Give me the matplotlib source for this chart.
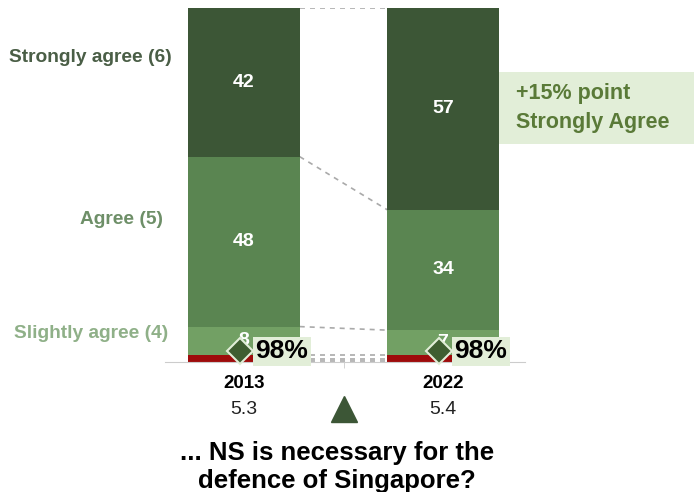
import numpy as np
import matplotlib.pyplot as plt
from matplotlib.transforms import blended_transform_factory

plt.rcParams['font.family'] = ['Liberation Sans', 'DejaVu Sans']

# data
years = ['2013', '2022']
strongly_disagree = [0.3, 0.3]   # red sliver at the bottom (three small groups)
disagree = [0.5, 0.5]
slightly_disagree = [1.2, 1.2]
slightly_agree = [8, 7]
agree = [48, 34]
strongly_agree = [42, 57]
mean_scores = ['5.3', '5.4']
total_agree = ['98%', '98%']
categories = ['Slightly agree (4)', 'Agree (5)', 'Strongly agree (6)']
callout = '+15% point\nStrongly Agree'
question = '... NS is necessary for the\ndefence of Singapore?'

c_red = '#9e0b0b'
c_slight = '#72a064'
c_agree = '#5a8551'
c_strong = '#3c5636'
c_light = '#e2eed8'

fig = plt.figure(figsize=(6.94, 4.92), dpi=100)
ax = fig.add_axes([165 / 694, 130 / 492, 360 / 694, 354 / 492])

x = np.arange(len(years))
w = 0.56
series = [strongly_disagree, disagree, slightly_disagree,
          slightly_agree, agree, strongly_agree]
colors = [c_red, c_red, c_red, c_slight, c_agree, c_strong]
bottoms = np.zeros(len(years))
edges = []
for vals, col in zip(series, colors):
    vals = np.array(vals, dtype=float)
    ax.bar(x, vals, w, bottom=bottoms, color=col, linewidth=0, zorder=2)
    # white value labels on the agree segments
    if col != c_red:
        for xi, b, v in zip(x, bottoms, vals):
            ax.text(xi, b + v / 2, '%d' % v, ha='center', va='center',
                    color='white', fontsize=14, fontweight='bold', zorder=3)
    bottoms = bottoms + vals
    edges.append(bottoms.copy())

# dashed connectors between the bars
for e in edges:
    ax.plot([x[0] + w / 2, x[1] - w / 2], [e[0], e[1]], ls=(0, (3, 3)),
            color='#aaaaaa', lw=1.2, zorder=1)

# diamonds with 98% labels
for xi, lab in zip(x, total_agree):
    ax.plot(xi - 0.02, 3, marker='D', ms=13, mfc='#3f5e31', mec=c_light,
            mew=1.5, zorder=5, clip_on=False)
    ax.annotate(lab, (xi - 0.02, 3), xytext=(11, 0), textcoords='offset points',
                ha='left', va='center', fontsize=19, fontweight='bold',
                color='black', zorder=6,
                bbox=dict(boxstyle='square,pad=0.1', fc=c_light, ec='none'))

ax.set_xlim(-0.397, -0.397 + 360 / 199)
ax.set_ylim(0, 100)
for s in ['top', 'right', 'left']:
    ax.spines[s].set_visible(False)
ax.spines['bottom'].set_color('#cccccc')
ax.set_yticks([])
ax.set_xticks(x)
ax.set_xticklabels(years, fontsize=13.5, fontweight='bold')
ax.tick_params(axis='x', length=0, pad=9)
ax.set_xticks([0.5], minor=True)
ax.tick_params(axis='x', which='minor', length=4, color='#cccccc')

trans = blended_transform_factory(ax.transData, ax.transAxes)
for xi, m in zip(x, mean_scores):
    ax.text(xi, -0.133, m, transform=trans, ha='center', va='center',
            fontsize=14, color='#222222')
ax.plot(0.5, -0.133, marker='^', ms=19, color='#3c5636', transform=trans,
        clip_on=False)

# category labels on the left
cat_y = [333, 220, 57]
cat_x = [168, 163, 172]
cat_c = ['#8fb088', '#6e8f68', '#4a5e46']
for lab, yy, xx, cc in zip(categories, cat_y, cat_x, cat_c):
    fig.text(xx / 694, 1 - yy / 492, lab, ha='right', va='center',
             fontsize=13.8, fontweight='bold', color=cc)

# callout box
fig.patches.append(plt.Rectangle((499 / 694, 1 - 144 / 492), 195 / 694, 72 / 492,
                                 transform=fig.transFigure, fc=c_light, ec='none'))
fig.text(516 / 694, 1 - 108 / 492, callout, ha='left', va='center',
         fontsize=15.5, fontweight='bold', color='#5a7a38', linespacing=1.55)

fig.text(337 / 694, 1 - 467 / 492, question, ha='center', va='center',
         fontsize=18.5, fontweight='bold', color='black', linespacing=1.2)

fig.savefig('out.png', dpi=100)
